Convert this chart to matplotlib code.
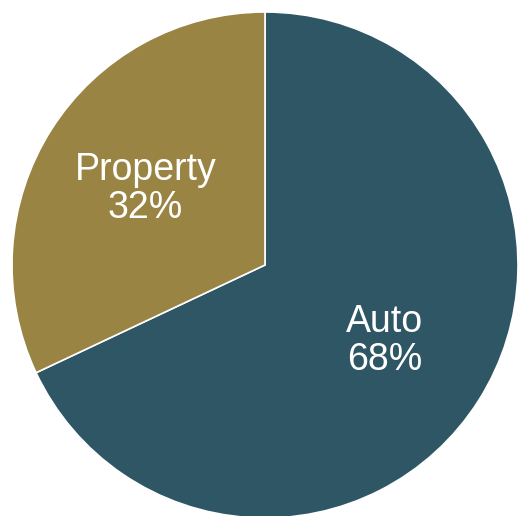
import matplotlib.pyplot as plt

# data
labels = ['Auto', 'Property']
shares = [68, 32]
colors = ['#2E5665', '#9A8443']

plt.rcParams['font.family'] = ['Liberation Sans', 'DejaVu Sans']

fig = plt.figure(figsize=(5.18, 5.16), dpi=100)
# pie spans roughly x 12..518 px, y 12..518 px (bottom slightly clipped)
ax = fig.add_axes([12 / 518, -2 / 516, 506 / 518, 506 / 516])

wedges, texts, autotexts = ax.pie(
    shares, colors=colors, startangle=90, counterclock=False,
    autopct=lambda p: '', pctdistance=0.56,
    wedgeprops=dict(edgecolor='white', linewidth=1.2))

for lab, val, t in zip(labels, shares, autotexts):
    t.set_text(f'{lab}\n{val}%')
    t.set_color('white')
    t.set_fontsize(27)
    t.set_linespacing(1.08)

ax.set_xlim(-1, 1)
ax.set_ylim(-1, 1)
ax.set_aspect('equal')
ax.axis('off')

fig.savefig('out.png', dpi=100)
